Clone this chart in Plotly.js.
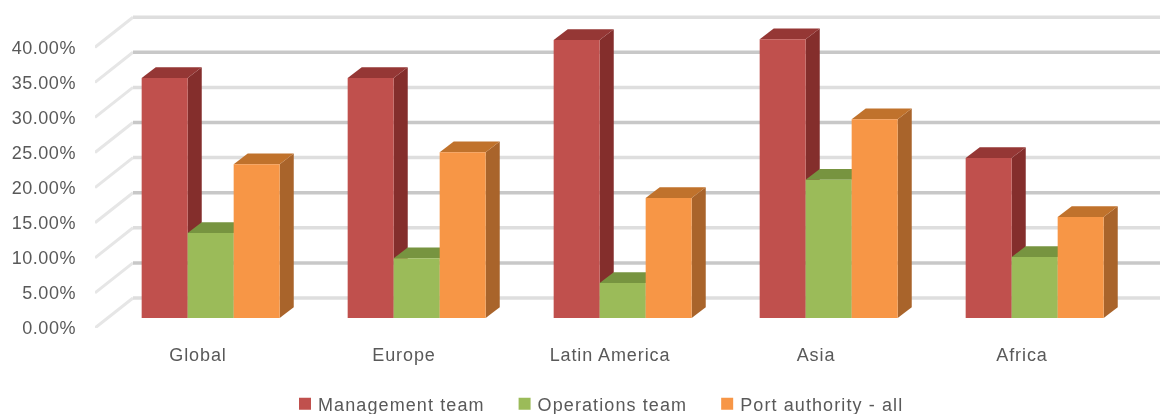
<!DOCTYPE html>
<html>
<head>
<meta charset="utf-8">
<script src="https://cdn.plot.ly/plotly-3.0.1.min.js"></script>
<style>
html,body{margin:0;padding:0;background:#fff}
#chart{width:1160px;height:414px;filter:blur(.45px)}
.xtick text{letter-spacing:.9px}
.ytick text{letter-spacing:.55px}
.legendtext{letter-spacing:1.1px;transform:translateX(-11px)}
</style>
</head>
<body>
<div id="chart"></div>
<script>
const categories = ["Global", "Europe", "Latin America", "Asia", "Africa"];
const managementTeam = [34.2, 34.2, 39.6, 39.7, 22.8];
const operationsTeam = [12.1, 8.5, 5.0, 19.7, 8.7];
const portAuthorityAll = [21.9, 23.6, 17.1, 28.3, 14.4];
const tickValues = [0, 5, 10, 15, 20, 25, 30, 35, 40];

const W = 1160, H = 414, L = 95, FLOOR = 328;
const pxX = 206, pxY = 7.02;
const xMin = -0.5, xMax = xMin + (W - L) / pxX;
const yMax = FLOOR / pxY;
const wallDx = 38 / pxX, wallDy = 30 / pxY;
const barW = 46 / pxX;
const depthX = wallDx / 2.7, depthY = wallDy / 2.8;
const shiftX = wallDx / 3, baseY = wallDy / 3;

const series = [
  {name: "Management team", values: managementTeam, front: "#C0504D", top: "#953735", side: "#842E2C", slot: -1},
  {name: "Operations team", values: operationsTeam, front: "#9BBB59", top: "#779440", side: "#6F8B3A", slot: 0},
  {name: "Port authority - all", values: portAuthorityAll, front: "#F79646", top: "#C0722C", side: "#A9642B", slot: 1}
];

const traces = [];
tickValues.forEach(v => {
  traces.push({type: "scatter", mode: "lines", x: [xMin, xMin + wallDx], y: [v, v + wallDy],
    line: {color: "#e6e6e6", width: 3}, showlegend: false, hoverinfo: "skip", zorder: 0});
  const dark = (v / 5) % 2 === 1;
  traces.push({type: "scatter", mode: "lines", x: [xMin + wallDx, xMax], y: [v + wallDy, v + wallDy],
    line: {color: dark ? "#c8c8c8" : "#dedede", width: 3.5}, showlegend: false, hoverinfo: "skip", zorder: 0});
});

series.forEach((s, k) => {
  const xc = categories.map((c, i) => i + shiftX + s.slot * barW);
  const z = 1 + k * 2;
  s.values.forEach((v, i) => {
    const x0 = xc[i] - barW / 2, x1 = xc[i] + barW / 2, y1 = baseY + v;
    traces.push({type: "scatter", mode: "lines", fill: "toself", fillcolor: s.side,
      x: [x1, x1 + depthX, x1 + depthX, x1, x1],
      y: [baseY, baseY + depthY, y1 + depthY, y1, baseY],
      line: {width: 0, color: s.side}, showlegend: false, hoverinfo: "skip", zorder: z});
    traces.push({type: "scatter", mode: "lines", fill: "toself", fillcolor: s.top,
      x: [x0, x1, x1 + depthX, x0 + depthX, x0],
      y: [y1, y1, y1 + depthY, y1 + depthY, y1],
      line: {width: 0, color: s.top}, showlegend: false, hoverinfo: "skip", zorder: z});
  });
  traces.push({type: "bar", name: s.name, x: xc, y: s.values,
    base: s.values.map(() => baseY), width: barW,
    marker: {color: s.front, line: {width: 0}}, hoverinfo: "skip", zorder: z + 1});
});

const layout = {
  width: W, height: H,
  margin: {l: L, r: 0, t: 0, b: H - FLOOR, pad: 0, autoexpand: false},
  paper_bgcolor: "#fff", plot_bgcolor: "#fff",
  barmode: "overlay",
  font: {family: "Liberation Sans, Arial, sans-serif", size: 18, color: "#595959"},
  xaxis: {range: [xMin, xMax], tickmode: "array", tickvals: categories.map((c, i) => i), ticktext: categories,
    showgrid: false, zeroline: false, showline: false, ticks: "", ticklabelstandoff: 14, fixedrange: true},
  yaxis: {range: [0, yMax], tickmode: "array", tickvals: tickValues, ticktext: tickValues.map(v => v.toFixed(2) + "%"),
    showgrid: false, zeroline: false, showline: false, ticks: "", ticklabelstandoff: 18, fixedrange: true},
  legend: {orientation: "h", xref: "paper", x: (281 - L) / (W - L), xanchor: "left", yref: "paper", y: (FLOOR - 404) / FLOOR, yanchor: "middle",
    itemwidth: 38, font: {size: 18, color: "#595959"}, itemclick: false, itemdoubleclick: false, traceorder: "normal"},
  showlegend: true
};

Plotly.newPlot("chart", traces, layout, {displayModeBar: false, staticPlot: true});
</script>
</body>
</html>
